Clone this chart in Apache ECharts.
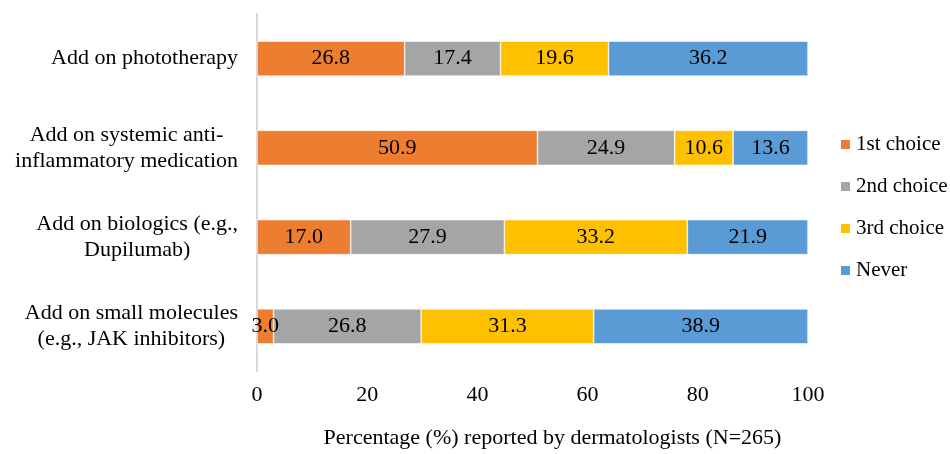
<!DOCTYPE html>
<html>
<head>
<meta charset="utf-8">
<style>
  html, body { margin: 0; padding: 0; background: #fff; }
  #chart { width: 950px; height: 454px; }
</style>
<script src="https://cdn.jsdelivr.net/npm/echarts@6/dist/echarts.min.js"></script>
</head>
<body>
<div id="chart"></div>
<script>
// Treatment options, top to bottom
var categories = [
  'Add on phototherapy',
  'Add on systemic anti-\ninflammatory medication',
  'Add on biologics (e.g.,\nDupilumab)',
  'Add on small molecules\n(e.g., JAK inhibitors)'
];
var seriesNames = ['1st choice', '2nd choice', '3rd choice', 'Never'];
var firstChoice  = [26.8, 50.9, 17.0, 3.0];
var secondChoice = [17.4, 24.9, 27.9, 26.8];
var thirdChoice  = [19.6, 10.6, 33.2, 31.3];
var never        = [36.2, 13.6, 21.9, 38.9];
var xTicks = [0, 20, 40, 60, 80, 100];

var FONT = "'Liberation Serif', 'Times New Roman', serif";
var colors = ['#ED7D31', '#A5A5A5', '#FFC000', '#5B9BD5'];
var values = [firstChoice, secondChoice, thirdChoice, never];

var chart = echarts.init(document.getElementById('chart'));

var series = seriesNames.map(function (name, i) {
  return {
    name: name,
    type: 'bar',
    stack: 'total',
    barWidth: 35,
    data: values[i],
    itemStyle: { color: colors[i], borderColor: '#ffffff', borderWidth: 0.6 },
    label: {
      show: true,
      position: 'inside',
      color: '#000',
      fontFamily: FONT,
      fontSize: 22,
      formatter: function (p) { return p.value.toFixed(1); }
    },
    emphasis: { disabled: true }
  };
});

chart.setOption({
  animation: false,
  backgroundColor: '#fff',
  grid: { left: 257, right: 142, top: 14, bottom: 82 },
  legend: {
    orient: 'vertical',
    left: 839,
    top: 134,
    padding: 0,
    icon: 'rect',
    itemWidth: 11,
    itemHeight: 11,
    itemGap: 21,
    textStyle: { fontFamily: FONT, fontSize: 21, color: '#000', lineHeight: 21 },
    data: seriesNames
  },
  xAxis: {
    type: 'value',
    min: xTicks[0],
    max: xTicks[xTicks.length - 1],
    interval: 20,
    axisLine: { show: false },
    axisTick: { show: false },
    splitLine: { show: false },
    axisLabel: { fontFamily: FONT, fontSize: 22, color: '#000', margin: 13 },
    name: 'Percentage (%) reported by dermatologists (N=265)',
    nameLocation: 'middle',
    nameGap: 56,
    nameTextStyle: { fontFamily: FONT, fontSize: 22, color: '#000', padding: [0, 0, 0, 40] }
  },
  yAxis: {
    type: 'category',
    inverse: true,
    data: categories,
    axisLine: { show: true, lineStyle: { color: '#d9d9d9', width: 2 } },
    axisTick: { show: false },
    axisLabel: {
      align: 'right',
      margin: 19,
      formatter: function (v) {
        return v.split('\n').map(function (l) { return '{c|' + l + '}'; }).join('\n');
      },
      rich: {
        c: { align: 'center', fontFamily: FONT, fontSize: 22, color: '#000', lineHeight: 26 }
      }
    }
  },
  series: series
});
</script>
</body>
</html>
